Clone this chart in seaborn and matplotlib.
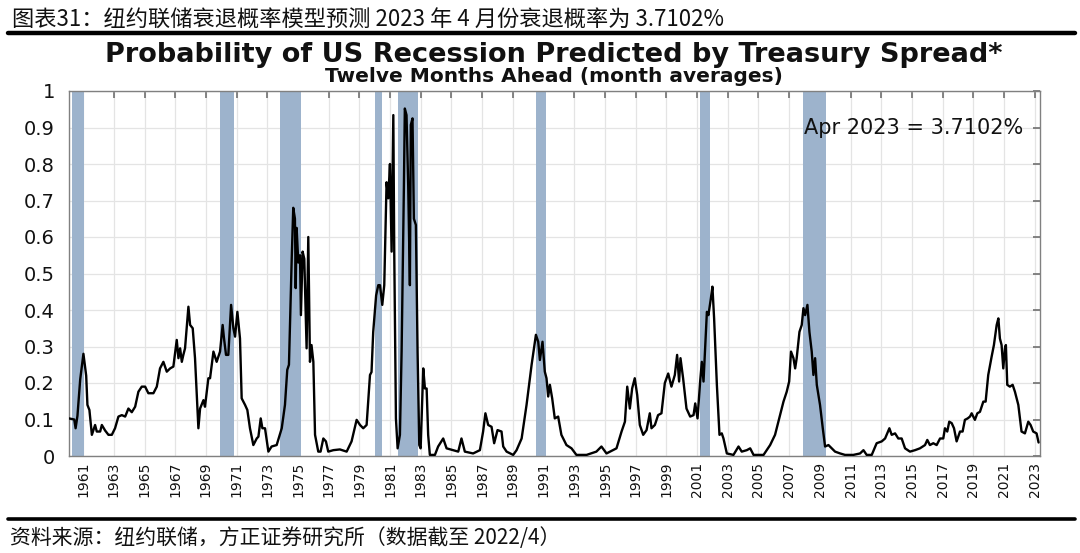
import numpy as np
import pandas as pd
import matplotlib
matplotlib.use("Agg")
import matplotlib.pyplot as plt
import seaborn as sns
from matplotlib.lines import Line2D

# ---------------- data ----------------
years = [
    1960.08, 1960.42, 1960.51, 1960.63, 1960.81, 1961.02, 1961.20, 1961.28, 1961.41, 1961.57,
    1961.78, 1961.89, 1962.11, 1962.22, 1962.43, 1962.65, 1962.87, 1963.08, 1963.30, 1963.52,
    1963.74, 1963.95, 1964.17, 1964.39, 1964.60, 1964.82, 1965.04, 1965.25, 1965.58, 1965.80,
    1966.01, 1966.23, 1966.45, 1966.67, 1966.88, 1967.10, 1967.21, 1967.32, 1967.43, 1967.53,
    1967.64, 1967.86, 1967.97, 1968.14, 1968.29, 1968.51, 1968.62, 1968.84, 1968.94, 1969.16,
    1969.27, 1969.49, 1969.70, 1969.92, 1970.09, 1970.18, 1970.31, 1970.46, 1970.64, 1970.79,
    1970.90, 1971.05, 1971.22, 1971.33, 1971.55, 1971.70, 1971.87, 1972.09, 1972.31, 1972.42,
    1972.57, 1972.68, 1972.85, 1973.07, 1973.28, 1973.61, 1973.94, 1974.15, 1974.30, 1974.41,
    1974.59, 1974.69, 1974.80, 1974.85, 1974.91, 1975.02, 1975.13, 1975.19, 1975.30, 1975.41,
    1975.56, 1975.67, 1975.78, 1975.88, 1976.00, 1976.11, 1976.32, 1976.47, 1976.65, 1976.82,
    1976.97, 1977.30, 1977.73, 1978.17, 1978.49, 1978.82, 1979.04, 1979.25, 1979.47, 1979.69,
    1979.79, 1979.90, 1980.09, 1980.23, 1980.34, 1980.49, 1980.62, 1980.77, 1980.88, 1980.99,
    1981.10, 1981.21, 1981.27, 1981.38, 1981.49, 1981.64, 1981.75, 1981.90, 1981.96, 1982.07,
    1982.18, 1982.29, 1982.35, 1982.46, 1982.55, 1982.68, 1982.79, 1982.90, 1982.99, 1983.16,
    1983.27, 1983.38, 1983.48, 1983.59, 1983.92, 1984.13, 1984.46, 1984.68, 1985.11, 1985.44,
    1985.65, 1985.87, 1986.41, 1986.85, 1987.06, 1987.21, 1987.39, 1987.61, 1987.78, 1988.00,
    1988.26, 1988.37, 1988.59, 1989.02, 1989.24, 1989.57, 1989.89, 1990.22, 1990.50, 1990.65,
    1990.76, 1990.93, 1991.08, 1991.19, 1991.30, 1991.41, 1991.56, 1991.73, 1991.95, 1992.16,
    1992.49, 1992.82, 1993.14, 1993.80, 1994.44, 1994.77, 1995.10, 1995.75, 1996.08, 1996.30,
    1996.45, 1996.62, 1996.77, 1996.94, 1997.10, 1997.27, 1997.49, 1997.71, 1997.92, 1998.03,
    1998.25, 1998.46, 1998.68, 1998.90, 1999.12, 1999.33, 1999.55, 1999.70, 1999.83, 1999.92,
    2000.09, 2000.31, 2000.55, 2000.77, 2000.88, 2001.03, 2001.20, 2001.31, 2001.42, 2001.64,
    2001.74, 2001.90, 2002.00, 2002.11, 2002.29, 2002.46, 2002.61, 2002.72, 2002.94, 2003.37,
    2003.70, 2003.91, 2004.24, 2004.46, 2004.68, 2005.33, 2005.76, 2006.08, 2006.41, 2006.63,
    2006.84, 2007.00, 2007.12, 2007.28, 2007.39, 2007.49, 2007.67, 2007.82, 2007.93, 2008.04,
    2008.19, 2008.32, 2008.47, 2008.58, 2008.69, 2008.80, 2009.01, 2009.19, 2009.34, 2009.56,
    2009.77, 2009.99, 2010.32, 2010.64, 2011.18, 2011.62, 2011.84, 2012.05, 2012.38, 2012.70,
    2013.03, 2013.25, 2013.53, 2013.68, 2013.90, 2014.11, 2014.33, 2014.55, 2014.87, 2015.20,
    2015.52, 2015.85, 2016.00, 2016.17, 2016.39, 2016.61, 2016.83, 2017.04, 2017.15, 2017.30,
    2017.43, 2017.59, 2017.74, 2017.91, 2018.13, 2018.30, 2018.45, 2018.63, 2018.78, 2018.89,
    2019.10, 2019.26, 2019.43, 2019.65, 2019.80, 2019.97, 2020.19, 2020.34, 2020.52, 2020.63,
    2020.73, 2020.84, 2020.95, 2021.06, 2021.12, 2021.21, 2021.38, 2021.56, 2021.71, 2021.93,
    2022.14, 2022.36, 2022.58, 2022.73, 2022.90, 2023.12, 2023.25,
]
prob = [
    0.103, 0.100, 0.076, 0.110, 0.210, 0.280, 0.220, 0.140, 0.126, 0.058,
    0.085, 0.067, 0.067, 0.085, 0.070, 0.058, 0.058, 0.076, 0.108, 0.112,
    0.108, 0.130, 0.120, 0.135, 0.176, 0.190, 0.190, 0.172, 0.172, 0.190,
    0.240, 0.258, 0.231, 0.240, 0.245, 0.318, 0.268, 0.295, 0.258, 0.277,
    0.295, 0.409, 0.359, 0.350, 0.268, 0.076, 0.130, 0.153, 0.135, 0.213,
    0.213, 0.286, 0.258, 0.286, 0.359, 0.322, 0.277, 0.277, 0.414, 0.350,
    0.327, 0.395, 0.322, 0.158, 0.140, 0.126, 0.076, 0.030, 0.048, 0.053,
    0.103, 0.076, 0.076, 0.012, 0.026, 0.030, 0.076, 0.140, 0.236, 0.250,
    0.540, 0.680, 0.650, 0.460, 0.625, 0.530, 0.550, 0.386, 0.560, 0.540,
    0.295, 0.600, 0.258, 0.304, 0.258, 0.058, 0.012, 0.012, 0.048, 0.040,
    0.012, 0.016, 0.018, 0.012, 0.040, 0.099, 0.085, 0.076, 0.085, 0.222,
    0.230, 0.340, 0.440, 0.468, 0.468, 0.414, 0.468, 0.750, 0.706, 0.800,
    0.560, 0.934, 0.560, 0.103, 0.021, 0.058, 0.286, 0.740, 0.952, 0.934,
    0.740, 0.468, 0.907, 0.925, 0.650, 0.633, 0.286, 0.030, 0.021, 0.240,
    0.185, 0.185, 0.058, 0.003, 0.003, 0.026, 0.048, 0.021, 0.016, 0.012,
    0.048, 0.012, 0.007, 0.016, 0.067, 0.117, 0.085, 0.080, 0.035, 0.071,
    0.067, 0.026, 0.012, 0.003, 0.016, 0.048, 0.140, 0.250, 0.332, 0.313,
    0.263, 0.313, 0.231, 0.213, 0.163, 0.195, 0.158, 0.103, 0.108, 0.058,
    0.030, 0.021, 0.003, 0.003, 0.012, 0.026, 0.007, 0.021, 0.067, 0.094,
    0.190, 0.130, 0.185, 0.213, 0.167, 0.085, 0.058, 0.071, 0.117, 0.076,
    0.085, 0.112, 0.117, 0.200, 0.226, 0.190, 0.222, 0.277, 0.204, 0.268,
    0.213, 0.130, 0.108, 0.112, 0.144, 0.103, 0.204, 0.258, 0.204, 0.395,
    0.386, 0.432, 0.464, 0.377, 0.195, 0.058, 0.062, 0.048, 0.007, 0.003,
    0.026, 0.012, 0.016, 0.021, 0.003, 0.003, 0.030, 0.058, 0.112, 0.149,
    0.176, 0.204, 0.286, 0.268, 0.240, 0.268, 0.340, 0.359, 0.405, 0.386,
    0.414, 0.340, 0.286, 0.222, 0.268, 0.195, 0.140, 0.076, 0.026, 0.030,
    0.021, 0.012, 0.007, 0.003, 0.003, 0.007, 0.016, 0.003, 0.003, 0.035,
    0.040, 0.048, 0.076, 0.058, 0.062, 0.048, 0.048, 0.021, 0.012, 0.016,
    0.021, 0.030, 0.044, 0.030, 0.035, 0.030, 0.048, 0.048, 0.076, 0.067,
    0.094, 0.090, 0.076, 0.040, 0.067, 0.067, 0.099, 0.103, 0.108, 0.117,
    0.099, 0.117, 0.121, 0.149, 0.149, 0.222, 0.272, 0.304, 0.359, 0.377,
    0.322, 0.304, 0.240, 0.295, 0.304, 0.195, 0.190, 0.195, 0.176, 0.140,
    0.067, 0.062, 0.094, 0.085, 0.067, 0.062, 0.037,
]

recession_start = [1960.25, 1969.92, 1973.83, 1980.00, 1981.50, 1990.50, 2001.17, 2007.92]
recession_end = [1961.08, 1970.83, 1975.17, 1980.50, 1982.83, 1991.17, 2001.83, 2009.42]

tick_years = list(range(1961, 2024, 2))
y_ticks = [0, 0.1, 0.2, 0.3, 0.4, 0.5, 0.6, 0.7, 0.8, 0.9, 1.0]
y_tick_labels = ["0", "0.1", "0.2", "0.3", "0.4", "0.5", "0.6", "0.7", "0.8", "0.9", "1"]

header = "图表31：纽约联储衰退概率模型预测 2023 年 4 月份衰退概率为 3.7102%"
source = "资料来源：纽约联储，方正证券研究所（数据截至 2022/4）"
title = "Probability of US Recession Predicted by Treasury Spread*"
subtitle = "Twelve Months Ahead (month averages)"
note = "Apr 2023 = 3.7102%"

df = pd.DataFrame({"year": years, "prob": prob})

# ---------------- style ----------------
sns.set_theme(style="white")
plt.rcParams["font.family"] = ["DejaVu Sans", "Noto Sans CJK SC"]

fig = plt.figure(figsize=(10.8, 5.53), dpi=100)
ax = fig.add_axes([69 / 1080, 1 - 456 / 553, (1039.5 - 69) / 1080, (456 - 91) / 553])

band_color = "#9db3cc"
for s, e in zip(recession_start, recession_end):
    ax.axvspan(s, e, color=band_color, lw=0, zorder=1)

sns.lineplot(data=df, x="year", y="prob", ax=ax, color="black", lw=1.7,
             estimator=None, sort=False, zorder=3)

ax.set_xlim(1960.08, 2023.31)
ax.set_ylim(0, 1)
ax.set_xticks(tick_years)
ax.set_xticklabels([str(y) for y in tick_years], rotation=90, fontsize=10)
ax.set_yticks(y_ticks)
ax.set_yticklabels(y_tick_labels, fontsize=14)
ax.set_xlabel("")
ax.set_ylabel("")
ax.grid(True, color="#e4e4e4", lw=0.9, zorder=0)
ax.set_axisbelow(True)
ax.tick_params(axis="both", which="both", direction="in", length=5, width=1.2,
               color="#6f6f6f", top=True, right=True, labelcolor="#111111")
ax.tick_params(axis="x", pad=4)
ax.tick_params(axis="y", pad=10)
for sp in ax.spines.values():
    sp.set_color("#808080")
    sp.set_linewidth(1.0)

ax.text(2022.24, 0.9, note, ha="right", va="center", fontsize=15, color="#111111", zorder=4)

fig.text(0.513, 1 - 55 / 553, title, ha="center", va="center", fontsize=19.5,
         fontweight="bold", color="#111111")
fig.text(0.513, 1 - 77 / 553, subtitle, ha="center", va="center", fontsize=14.5,
         fontweight="bold", color="#111111")

fig.text(12 / 1080, 1 - 19 / 553, header, ha="left", va="center", fontsize=16,
         family=["Noto Sans CJK SC", "DejaVu Sans"], color="#111111")
fig.text(10 / 1080, 1 - 538 / 553, source, ha="left", va="center", fontsize=15,
         family=["Noto Sans CJK SC", "DejaVu Sans"], color="#111111", style="italic")

fig.add_artist(Line2D([8 / 1080, 1075 / 1080], [1 - 33 / 553, 1 - 33 / 553],
                      color="black", lw=3.2, transform=fig.transFigure))
fig.add_artist(Line2D([8 / 1080, 1075 / 1080], [1 - 519 / 553, 1 - 519 / 553],
                      color="black", lw=2.6, transform=fig.transFigure))

fig.savefig("out.png", dpi=100)
